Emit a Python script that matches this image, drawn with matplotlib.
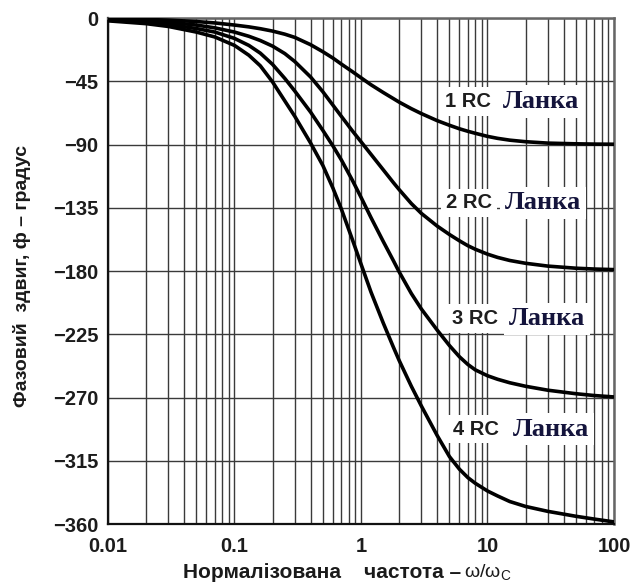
import matplotlib
matplotlib.use("Agg")
import matplotlib.pyplot as plt
from matplotlib.ticker import FixedLocator, NullFormatter

# Значення (фазовий зсув у градусах)
freq = [0.01, 0.02, 0.03, 0.05, 0.07, 0.1, 0.13, 0.16, 0.2, 0.25, 0.3, 0.4,
        0.5, 0.6, 0.7, 0.85, 1, 1.2, 1.5, 1.8, 2, 2.5, 3, 4, 5, 6, 7, 8,
        10, 12, 15, 20, 30, 50, 70, 100]

phase_1rc = [-0.5, -1, -1.5, -2.5, -3.5, -5, -6.3, -7.6, -9.3, -11.5, -13.8,
             -19, -24, -28.5, -32.8, -38, -42.5, -47.5, -53, -57.3, -59.8,
             -64.5, -68, -73, -76.3, -78.8, -80.6, -82, -84.2, -85.6, -86.9,
             -88, -89, -89.5, -89.7, -89.8]
phase_2rc = [-1, -2, -3, -5, -7, -10, -13, -16, -20, -25.3, -31, -42, -52.5,
             -62, -70, -80, -88, -97, -108, -117, -122, -132, -139, -148,
             -154, -158.5, -162, -164.5, -168, -170.3, -172.5, -174.5,
             -176.5, -178, -178.6, -179]
phase_3rc = [-1.5, -3, -4.5, -7.5, -10, -14.5, -19.5, -25, -33, -43, -52, -67,
             -80, -91, -101, -115, -127.5, -142, -159, -172.5, -180.5, -196,
             -207, -222, -233, -241, -246.5, -250.3, -254.5, -257, -259.5,
             -262, -264.8, -267.3, -268.6, -269.6]
phase_4rc = [-2, -4, -6, -10, -13.5, -19.5, -26.5, -34, -45.5, -59, -70, -89,
             -105, -121, -136, -157, -175, -195, -217, -234, -243.5, -262,
             -276, -297, -312, -321, -327, -331, -336.5, -340, -344, -347.5,
             -351, -354.5, -356.5, -358.5]

series = [phase_1rc, phase_2rc, phase_3rc, phase_4rc]
rc_labels = ["1 RC", "2 RC", "3 RC", "4 RC"]

y_ticks = [0, -45, -90, -135, -180, -225, -270, -315, -360]
x_ticks = [0.01, 0.1, 1, 10, 100]
x_tick_labels = ["0.01", "0.1", "1", "10", "100"]

sans = ["Liberation Sans", "DejaVu Sans"]
serif = ["Liberation Serif", "DejaVu Serif"]

fig = plt.figure(figsize=(6.3, 5.87), dpi=100)
ax = fig.add_axes([0.1714, 0.1073, 0.8032, 0.862])

for ph in series:
    ax.plot(freq, ph, color="black", lw=2.6, solid_joinstyle="round", zorder=4)

ax.set_xscale("log")
ax.set_xlim(0.01, 100)
ax.set_ylim(-360, 0)

ax.xaxis.set_major_locator(FixedLocator(x_ticks))
minor = [m * 10.0 ** e for e in range(-2, 2) for m in range(2, 10)]
ax.xaxis.set_minor_locator(FixedLocator(minor))
ax.xaxis.set_minor_formatter(NullFormatter())
ax.set_xticklabels(x_tick_labels)
ax.set_yticks(y_ticks)
ax.set_yticklabels(["0"] + ["\u2212" + str(-v) for v in y_ticks[1:]])

ax.grid(True, which="both", axis="x", color="#3a3a3a", lw=1.0)
ax.grid(True, which="major", axis="y", color="#3a3a3a", lw=1.0)
ax.tick_params(which="both", length=0)
ax.tick_params(axis="x", pad=9)
ax.tick_params(axis="y", pad=7)
for lab in ax.get_xticklabels() + ax.get_yticklabels():
    lab.set_fontfamily(sans)
    lab.set_fontweight("bold")
    lab.set_fontsize(14.5)
    lab.set_color("#1c1c1c")

for side in ["left", "bottom"]:
    ax.spines[side].set_color("#111111")
    ax.spines[side].set_linewidth(1.6)
for side in ["top", "right"]:
    ax.spines[side].set_color("#666666")
    ax.spines[side].set_linewidth(1.8)

# Підписи кривих
label_pos = [(4.6, -59.5), (4.7, -131.5), (5.2, -214), (5.35, -292.5)]
word_x = [13.3, 13.7, 14.8, 15.9]
box = dict(facecolor="white", edgecolor="none", pad=3.5)
for (lx, ly), wx, txt in zip(label_pos, word_x, rc_labels):
    ax.text(lx, ly, txt, fontfamily=sans, fontweight="bold", fontsize=14.5,
            color="#1e1e1e", ha="left", va="center", bbox=box, zorder=5)
    ax.text(wx, ly, "Ланка", fontfamily=serif, fontweight="bold", fontsize=19,
            color="#14143c", ha="left", va="center", bbox=box, zorder=5)

fig.text(0.035, 1 - 276 / 587, "Фазовий  здвиг, ф – градус", rotation=90,
         ha="center", va="center", fontfamily=sans, fontweight="bold",
         fontsize=14, color="#1a1a1a")
fig.text(461 / 630, 1 - 573 / 587, "Нормалізована    частота –", ha="right",
         va="center", fontfamily=sans, fontweight="bold", fontsize=15,
         color="#1a1a1a")
fig.text(464 / 630, 1 - 573 / 587, "ω/ω$_\\mathregular{C}$", ha="left",
         va="center", fontfamily=sans, fontsize=14, color="#1a1a1a")

fig.savefig("out.png", dpi=100, facecolor="white")
